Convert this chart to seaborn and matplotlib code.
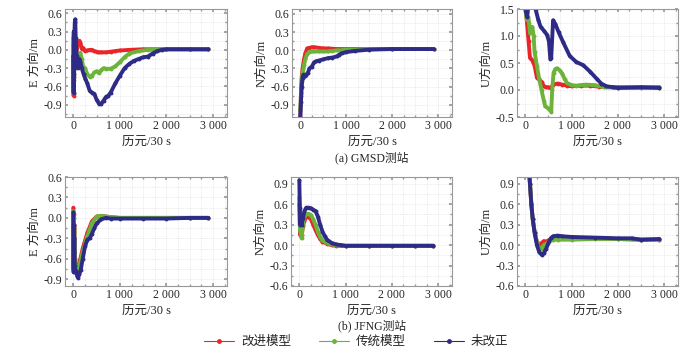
"""
GMSD / JFNG station position errors (E, N, U) for three models.
"""

import numpy as np
import pandas as pd
import matplotlib
matplotlib.use("Agg")
import matplotlib.pyplot as plt
import matplotlib.ticker as mticker
from matplotlib.lines import Line2D
import seaborn as sns

sns.set_theme(style="ticks")
plt.rcParams["font.family"] = ["Liberation Serif", "Noto Sans CJK SC"]
plt.rcParams["axes.unicode_minus"] = True

# ── Data ─────────────────────────────────────────────────────────────────────
labels = ["改进模型", "传统模型", "未改正"]
colors = ["#e8262a", "#6cb33a", "#2e2b86"]

# (a) GMSD, E
ae_red_x = [0, 5, 10, 15, 20, 30, 45, 60, 80, 100, 130, 150, 180, 210, 250, 300, 350, 400,
            450, 500, 550, 600, 700, 800, 900, 1000, 1200, 1500, 2000, 2500, 2900]
ae_red_y = [0.1, -0.75, 0.3, -0.45, 0.05, -0.2, 0.05, -0.1, 0.05, 0.12, 0.15, 0.12, 0.02, 0.03,
            -0.02, -0.01, 0.0, 0.0, -0.02, -0.03, -0.04, -0.04, -0.04, -0.03, -0.02, -0.01,
            0.0, 0.01, 0.01, 0.01, 0.01]
ae_grn_x = [0, 5, 10, 15, 20, 30, 45, 60, 80, 100, 130, 150, 180, 210, 250, 300, 350, 400, 450,
            500, 550, 600, 650, 700, 800, 900, 1000, 1100, 1200, 1400, 1600, 1800, 2000, 2500, 2900]
ae_grn_y = [0.2, -0.7, 0.25, -0.5, -0.1, -0.3, -0.1, -0.3, -0.2, -0.25, -0.08, -0.05, -0.15,
            -0.28, -0.3, -0.4, -0.44, -0.42, -0.37, -0.35, -0.38, -0.33, -0.3, -0.31, -0.31,
            -0.27, -0.2, -0.12, -0.06, -0.02, 0.0, 0.01, 0.01, 0.01, 0.01]
ae_blu_x = [0, 5, 10, 15, 20, 30, 40, 50, 70, 90, 110, 130, 150, 180, 220, 260, 300, 350, 400,
            450, 500, 550, 600, 650, 700, 750, 800, 900, 1000, 1100, 1200, 1300, 1400, 1500,
            1600, 1700, 1800, 1900, 2000, 2500, 2900]
ae_blu_y = [-0.1, -0.7, 0.3, -0.4, 0.2, 0.45, 0.5, 0.2, -0.1, -0.3, -0.25, -0.15, -0.2, -0.3,
            -0.4, -0.48, -0.55, -0.67, -0.7, -0.72, -0.82, -0.88, -0.88, -0.83, -0.77, -0.75,
            -0.7, -0.55, -0.42, -0.3, -0.23, -0.18, -0.15, -0.12, -0.11, -0.06, -0.02, 0.0,
            0.01, 0.01, 0.01]

# (a) GMSD, N
an_red_x = [0, 15, 30, 50, 80, 110, 150, 200, 250, 300, 400, 500, 600, 800, 1000, 1500, 2000, 2900]
an_red_y = [-1.1, -0.7, -0.45, -0.3, -0.15, -0.05, 0.03, 0.04, 0.05, 0.05, 0.04, 0.03, 0.03,
            0.02, 0.02, 0.02, 0.02, 0.02]
an_grn_x = [0, 15, 30, 50, 80, 110, 150, 200, 300, 400, 500, 600, 700, 800, 900, 1000, 1200,
            1500, 2000, 2900]
an_grn_y = [-1.0, -0.75, -0.5, -0.38, -0.25, -0.15, -0.06, -0.03, -0.02, -0.02, -0.02, -0.02,
            -0.01, 0.0, 0.0, 0.01, 0.01, 0.02, 0.02, 0.02]
an_blu_x = [0, 15, 30, 50, 70, 100, 130, 160, 200, 250, 300, 350, 400, 500, 600, 700, 800, 850,
            900, 1000, 1200, 1500, 2000, 2900]
an_blu_y = [-1.1, -0.85, -0.6, -0.45, -0.4, -0.42, -0.4, -0.38, -0.3, -0.27, -0.2, -0.18, -0.17,
            -0.15, -0.13, -0.12, -0.1, -0.07, -0.05, -0.03, -0.01, 0.01, 0.02, 0.02]

# (a) GMSD, U
au_red_x = [0, 20, 50, 70, 100, 150, 200, 250, 300, 350, 400, 450, 500, 550, 600, 700, 800,
            900, 1000, 1200, 1400, 1600, 2000, 2500, 2900]
au_red_y = [1.5, 1.4, 1.1, 0.9, 0.6, 0.55, 0.45, 0.23, 0.2, 0.15, 0.07, 0.05, 0.05, 0.03, 0.1,
            0.12, 0.1, 0.08, 0.07, 0.08, 0.08, 0.06, 0.05, 0.05, 0.05]
au_grn_x = [0, 30, 60, 80, 100, 130, 150, 180, 200, 250, 300, 350, 400, 430, 480, 530, 560,
            580, 610, 650, 690, 750, 800, 850, 900, 1000, 1100, 1300, 1500, 1700, 2000, 2500, 2900]
au_grn_y = [1.5, 1.3, 1.35, 1.25, 1.05, 1.1, 1.17, 1.0, 0.7, 0.45, 0.2, 0.0, -0.2, -0.3, -0.33,
            -0.37, -0.4, 0.0, 0.32, 0.39, 0.4, 0.36, 0.3, 0.2, 0.13, 0.09, 0.08, 0.1, 0.09, 0.05,
            0.04, 0.04, 0.04]
au_blu_x = [0, 15, 40, 70, 120, 180, 220, 280, 330, 400, 470, 510, 540, 560, 600, 650, 720,
            820, 960, 1100, 1250, 1400, 1540, 1640, 1750, 1900, 2000, 2500, 2900]
au_blu_y = [1.7, 1.45, 1.35, 1.6, 1.8, 1.7, 1.5, 1.3, 1.17, 1.1, 1.02, 0.9, 0.58, 0.6, 1.29,
            1.22, 1.07, 0.88, 0.63, 0.52, 0.46, 0.34, 0.21, 0.12, 0.07, 0.05, 0.04, 0.05, 0.04]

# (b) JFNG, E
be_x = [0, 5, 10, 15, 20, 30, 45, 60, 80, 100, 150, 200, 300, 400, 500, 600, 700, 800, 1000,
        1500, 2000, 2500, 2900]
be_red_y = [0.15, -0.75, 0.05, -0.5, -0.1, -0.6, -0.72, -0.8, -0.76, -0.72, -0.6, -0.45, -0.22,
            -0.05, 0.02, 0.03, 0.02, 0.01, 0.0, 0.0, 0.0, 0.0, 0.0]
be_grn_y = [0.1, -0.7, 0.0, -0.45, -0.15, -0.62, -0.75, -0.8, -0.78, -0.75, -0.65, -0.5, -0.27,
            -0.08, 0.02, 0.03, 0.02, 0.01, 0.0, 0.0, 0.0, 0.0, 0.0]
be_blu_x = [0, 5, 10, 15, 20, 30, 45, 60, 80, 100, 130, 160, 200, 250, 300, 350, 400, 450, 500,
            600, 700, 800, 1000, 1500, 2000, 2500, 2900]
be_blu_y = [0.08, -0.8, -0.1, -0.5, -0.3, -0.7, -0.8, -0.78, -0.85, -0.88, -0.82, -0.76, -0.6,
            -0.42, -0.32, -0.3, -0.23, -0.15, -0.08, -0.02, 0.0, -0.01, -0.01, -0.01, -0.01,
            0.0, 0.0]

# (b) JFNG, N
bn_x = [0, 10, 20, 30, 50, 80, 110, 150, 200, 250, 300, 350, 400, 450, 500, 600, 700, 800,
        1000, 1500, 2000, 2500, 2900]
bn_red_y = [0.6, 0.3, 0.15, 0.2, 0.15, 0.28, 0.36, 0.41, 0.41, 0.38, 0.3, 0.22, 0.15, 0.09,
            0.05, 0.02, 0.0, -0.01, -0.01, -0.01, -0.01, -0.01, -0.01]
bn_grn_y = [0.7, 0.35, 0.2, 0.25, 0.1, 0.33, 0.42, 0.46, 0.46, 0.44, 0.38, 0.3, 0.2, 0.12,
            0.07, 0.03, 0.01, 0.0, -0.01, -0.01, -0.01, -0.01, -0.01]
bn_blu_x = [0, 10, 20, 30, 50, 80, 110, 150, 200, 250, 300, 350, 400, 450, 500, 550, 600, 700,
            800, 900, 1000, 1500, 2000, 2500, 2900]
bn_blu_y = [0.95, 0.55, 0.3, 0.4, 0.3, 0.4, 0.5, 0.55, 0.55, 0.54, 0.52, 0.5, 0.42, 0.3, 0.2,
            0.13, 0.08, 0.03, 0.01, 0.0, -0.01, -0.01, -0.01, -0.01, -0.01]

# (b) JFNG, U
bu_x = [70, 100, 130, 160, 200, 250, 300, 350, 400, 450, 500, 600, 700, 1000, 1500, 2000,
        2500, 2900]
bu_red_y = [1.2, 0.9, 0.6, 0.38, 0.2, 0.05, -0.02, 0.03, 0.06, 0.05, 0.07, 0.1, 0.1, 0.1, 0.1,
            0.09, 0.08, 0.08]
bu_grn_y = [1.2, 0.9, 0.6, 0.38, 0.2, 0.04, -0.05, -0.05, 0.0, 0.02, 0.04, 0.08, 0.08, 0.08,
            0.09, 0.09, 0.08, 0.08]
bu_blu_x = [70, 100, 130, 160, 200, 250, 300, 350, 400, 450, 500, 550, 600, 700, 800, 1000,
            1500, 2000, 2300, 2500, 2900]
bu_blu_y = [1.2, 0.9, 0.6, 0.38, 0.18, 0.0, -0.1, -0.14, -0.12, -0.05, 0.03, 0.1, 0.13, 0.14,
            0.13, 0.12, 0.11, 0.1, 0.1, 0.08, 0.09]

panels = [
    ("E 方向/m", [(ae_red_x, ae_red_y), (ae_grn_x, ae_grn_y), (ae_blu_x, ae_blu_y)],
     (-1.1, 0.67), 0.3),
    ("N方向/m", [(an_red_x, an_red_y), (an_grn_x, an_grn_y), (an_blu_x, an_blu_y)],
     (-1.1, 0.68), 0.3),
    ("U方向/m", [(au_red_x, au_red_y), (au_grn_x, au_grn_y), (au_blu_x, au_blu_y)],
     (-0.5, 1.5), 0.5),
    ("E 方向/m", [(be_x, be_red_y), (be_x, be_grn_y), (be_blu_x, be_blu_y)],
     (-1.0, 0.6), 0.3),
    ("N方向/m", [(bn_x, bn_red_y), (bn_x, bn_grn_y), (bn_blu_x, bn_blu_y)],
     (-0.6, 1.0), 0.3),
    ("U方向/m", [(bu_x, bu_red_y), (bu_x, bu_grn_y), (bu_blu_x, bu_blu_y)],
     (-0.6, 1.0), 0.3),
]

# ── Layout (pixel boxes: left, top, right, bottom) ───────────────────────────
W, H = 700, 354
boxes = [(65, 9, 227, 117), (292, 9, 452, 117), (517, 9, 678, 117),
         (65, 177, 227, 286), (291, 177, 452, 286), (517, 177, 678, 286)]

fig = plt.figure(figsize=(7.0, 3.54), dpi=100)


def thousands(v, pos):
    return f"{int(round(v)):,}".replace(",", " ")


for (ylabel, series, ylim, ystep), (l, t, r, b) in zip(panels, boxes):
    ax = fig.add_axes([l / W, 1 - b / H, (r - l) / W, (b - t) / H])
    for (xs, ys), c in zip(series, colors):
        d = pd.DataFrame({"x": xs, "y": ys})
        sns.lineplot(data=d, x="x", y="y", ax=ax, color=c, lw=2.8, marker="o",
                     markersize=2.8, markeredgewidth=0, estimator=None, sort=False,
                     legend=False)
    ax.set_xlim(-180, 3300)
    ax.set_ylim(*ylim)
    ax.xaxis.set_major_locator(mticker.MultipleLocator(1000))
    ax.xaxis.set_minor_locator(mticker.MultipleLocator(250))
    ax.xaxis.set_major_formatter(mticker.FuncFormatter(thousands))
    ax.yaxis.set_major_locator(mticker.MultipleLocator(ystep))
    ax.yaxis.set_minor_locator(mticker.MultipleLocator(ystep / 2))
    ax.yaxis.set_major_formatter(mticker.FormatStrFormatter("%.1f"))
    ax.grid(True, which="both", color="#d8d8d8", lw=0.5, ls=":")
    ax.tick_params(which="both", direction="in", top=True, right=True,
                   color="#999999", labelsize=8.5, pad=2)
    ax.tick_params(which="major", length=2.5)
    ax.tick_params(which="minor", length=1.5)
    for sp in ax.spines.values():
        sp.set_color("#999999")
        sp.set_linewidth(0.8)
    ax.set_xlabel("历元/30 s", fontsize=9, labelpad=3)
    ax.set_ylabel(ylabel, fontsize=9, labelpad=2)

fig.text(372 / W, 1 - 158 / H, "(a) GMSD测站", ha="center", va="center", fontsize=8.5)
fig.text(372 / W, 1 - 326 / H, "(b) JFNG测站", ha="center", va="center", fontsize=8.5)

handles = [Line2D([], [], color=c, lw=0.8, marker="o", markersize=2.5) for c in colors]
fig.legend(handles, labels, loc="center", bbox_to_anchor=(356 / W, 1 - 342 / H), ncol=3,
           frameon=False, fontsize=9, handlelength=2.4, columnspacing=2.2, handletextpad=0.6,
           borderaxespad=0)

fig.savefig("out.png", dpi=100)
